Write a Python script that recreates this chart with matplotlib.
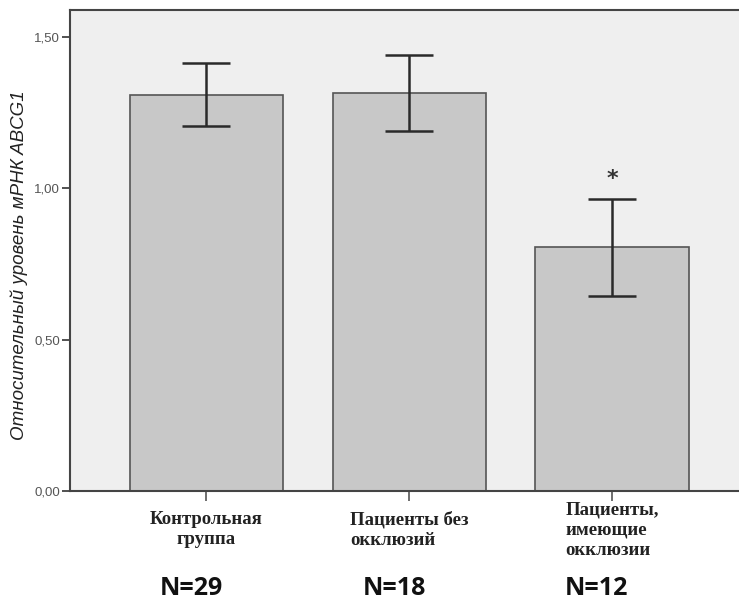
import matplotlib.pyplot as plt
import numpy as np

# данные
groups = ['Контрольная\nгруппа', 'Пациенты без\nокклюзий', 'Пациенты,\nимеющие\nокклюзии']
group_align = ['center', 'left', 'left']
means = [1.31, 1.316, 0.805]
errors = [0.105, 0.125, 0.161]
n_labels = ['N=29', 'N=18', 'N=12']
marks = ['', '', '*']
yticks = [0.0, 0.5, 1.0, 1.5]
ytick_labels = ['0,00', '0,50', '1,00', '1,50']

x = np.arange(len(groups))

fig = plt.figure(figsize=(7.39, 6.13), dpi=100)
ax = fig.add_axes([70/739, (613-491.3)/613, 1 - 70/739, (491.3-10)/613])
ax.set_facecolor('#efefef')

ax.bar(x, means, width=0.755, color='#c8c8c8', edgecolor='#555555', linewidth=1.2, zorder=2)
ax.errorbar(x, means, yerr=errors, fmt='none', ecolor='#2a2a2a', elinewidth=1.8,
            capsize=17, capthick=1.8, zorder=3)

# звездочка над третьим столбцом
for xi, m, e, s in zip(x, means, errors, marks):
    if s:
        ax.text(xi, m + e + 0.065, s, ha='center', va='center', fontsize=16,
                fontweight='bold', color='#333333', family='DejaVu Sans')

ax.set_xlim(-0.672, 2.626)
ax.set_ylim(0, 1.589)

ax.set_yticks(yticks)
ax.set_yticklabels(ytick_labels, fontsize=9.5, color='#555555', family='Liberation Sans')
ax.set_xticks(x)
ax.set_xticklabels([])
ax.tick_params(axis='y', length=6, width=1.2, color='#333333', pad=1)
ax.tick_params(axis='x', length=7, width=1.2, color='#555555')

for side in ['left', 'bottom', 'top']:
    ax.spines[side].set_color('#444444')
    ax.spines[side].set_linewidth(1.5)
ax.spines['right'].set_visible(False)

ax.set_ylabel('Относительный уровень мРНК ABCG1', fontsize=13.5, style='italic',
              family='Liberation Sans', color='#222222')
ax.yaxis.set_label_coords(-0.063, 0.47)

trans = ax.get_xaxis_transform()
for xi, g, al in zip(x, groups, group_align):
    ax.text(xi, -0.08, g, transform=trans, ha='center', va='center', multialignment=al,
            fontsize=13.5, fontweight='bold', family='Liberation Serif', color='#222222',
            linespacing=1.25)

for xi, n in zip(x, n_labels):
    ax.text(xi - 0.075, -0.202, n, transform=trans, ha='center', va='center',
            fontsize=18, fontweight='bold', family='Open Sans', color='#111111')

fig.savefig('out.png', dpi=100)
